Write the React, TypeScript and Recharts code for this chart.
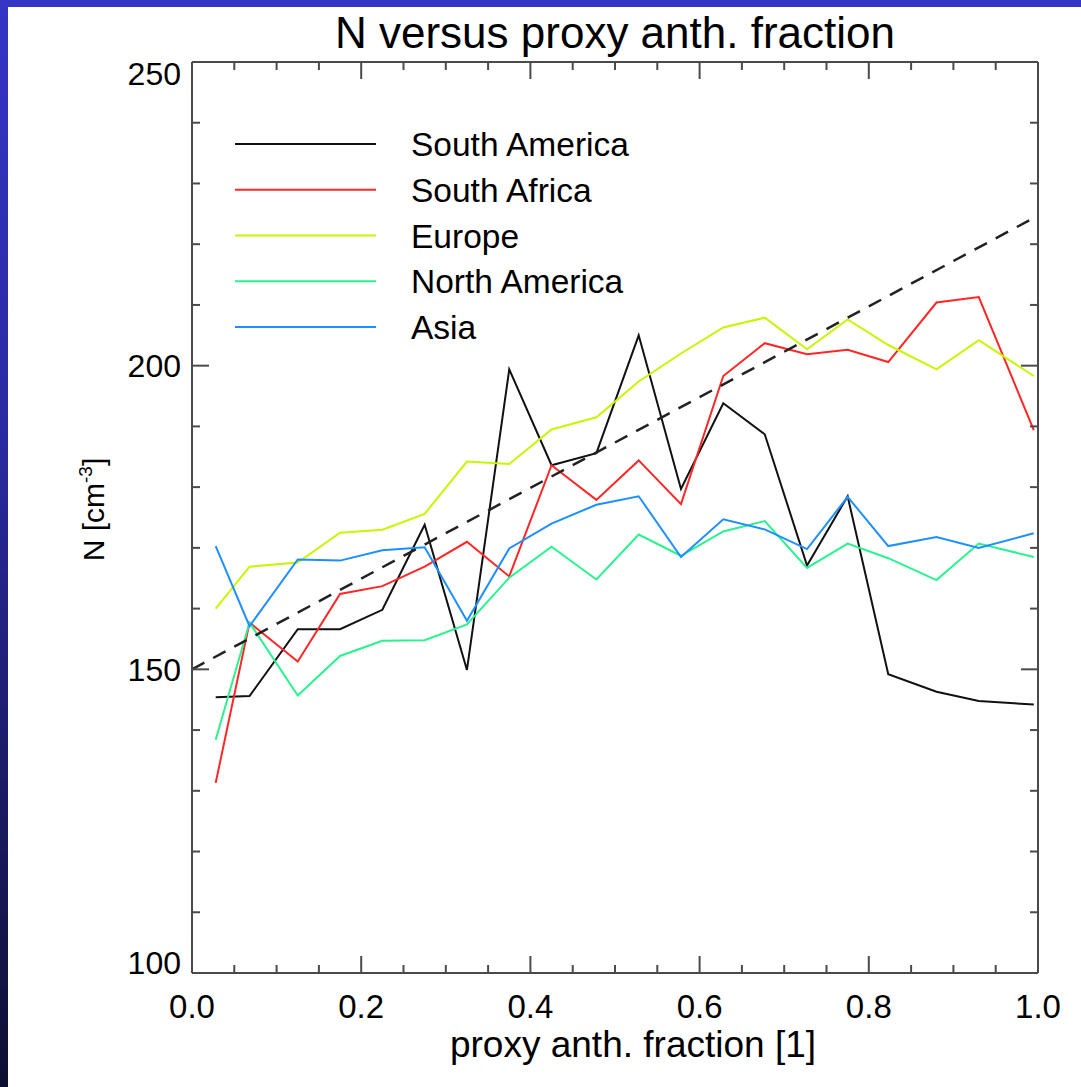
import React from 'react';
import { LineChart, Line, XAxis, YAxis, Legend } from 'recharts';

// ---- data ----
const xs = [0.028, 0.068, 0.125, 0.175, 0.225, 0.275, 0.325, 0.375, 0.425, 0.478, 0.528, 0.578, 0.628, 0.677, 0.727, 0.775, 0.823, 0.88, 0.93, 0.995];
const southAmerica = [145.4, 145.6, 156.6, 156.6, 159.8, 173.8, 149.9, 199.4, 183.6, 185.6, 205.0, 179.7, 193.8, 188.7, 167.1, 178.5, 149.2, 146.3, 144.8, 144.2];
const southAfrica = [131.3, 157.7, 151.3, 162.4, 163.7, 166.9, 171.0, 165.3, 183.6, 177.9, 184.4, 177.2, 198.3, 203.7, 201.9, 202.6, 200.6, 210.4, 211.3, 189.4];
const europe = [160.0, 166.9, 167.6, 172.5, 173.0, 175.6, 184.2, 183.8, 189.5, 191.5, 197.4, 202.0, 206.3, 207.9, 202.7, 207.6, 203.4, 199.4, 204.2, 198.3];
const northAmerica = [138.4, 157.7, 145.7, 152.2, 154.7, 154.8, 157.4, 165.1, 170.2, 164.8, 172.2, 168.7, 172.7, 174.4, 166.7, 170.7, 168.3, 164.7, 170.7, 168.5];
const asia = [170.3, 157.1, 168.1, 167.9, 169.6, 170.1, 158.0, 169.9, 174.0, 177.1, 178.5, 168.5, 174.7, 173.05, 169.8, 178.4, 170.3, 171.8, 170.0, 172.4];
const fitX = [0, 1];
const fitY = [150, 224.7];

const xTicks = [0, 0.05, 0.1, 0.15, 0.2, 0.25, 0.3, 0.35, 0.4, 0.45, 0.5, 0.55, 0.6, 0.65, 0.7, 0.75, 0.8, 0.85, 0.9, 0.95, 1.0];
const xMajor = [0, 0.2, 0.4, 0.6, 0.8, 1.0];
const xLabels = ['0.0', '0.2', '0.4', '0.6', '0.8', '1.0'];
const yTicks = [100, 110, 120, 130, 140, 150, 160, 170, 180, 190, 200, 210, 220, 230, 240, 250];
const yMajor = [100, 150, 200, 250];

const seriesNames = ['South America', 'South Africa', 'Europe', 'North America', 'Asia'];
const seriesColors = ['#111111', '#ff2626', '#c8f500', '#2af28e', '#1e8fff'];
const seriesValues = [southAmerica, southAfrica, europe, northAmerica, asia];

const title = 'N versus proxy anth. fraction';
const xTitle = 'proxy anth. fraction [1]';

const FONT = '"Liberation Sans", Arial, Helvetica, sans-serif';
const AXIS = '#4a4a4a';
const MAJ = 17;
const MIN = 8;

const toRows = (vals: number[], xv: number[]) => vals.map((v, i) => ({ x: xv[i], y: v }));

const isMajorX = (v: number) => xMajor.some((m) => Math.abs(m - v) < 1e-6);
const xLabelOf = (v: number) => {
  const i = xMajor.findIndex((m) => Math.abs(m - v) < 1e-6);
  return i >= 0 ? xLabels[i] : '';
};

const BottomTick = (p: any) => {
  const { x, y, payload } = p;
  const major = isMajorX(payload.value);
  return (
    <g>
      <line x1={x} x2={x} y1={y} y2={y - (major ? MAJ : MIN)} stroke={AXIS} strokeWidth={2} />
      {major && (
        <text x={x} y={y + 45} textAnchor="middle" fontSize={33} fontFamily={FONT} fill="#000">
          {xLabelOf(payload.value)}
        </text>
      )}
    </g>
  );
};

const TopTick = (p: any) => {
  const { x, y, payload } = p;
  const major = isMajorX(payload.value);
  return <line x1={x} x2={x} y1={y} y2={y + (major ? MAJ : MIN)} stroke={AXIS} strokeWidth={2} />;
};

const LeftTick = (p: any) => {
  const { x, y, payload } = p;
  const v = payload.value;
  const major = yMajor.includes(v);
  let shift = 0;
  if (v === 250) shift = 11;
  if (v === 100) shift = -11;
  return (
    <g>
      <line x1={x} x2={x + (major ? MAJ : MIN)} y1={y} y2={y} stroke={AXIS} strokeWidth={2} />
      {major && (
        <text x={x - 11} y={y + shift} dy="0.36em" textAnchor="end" fontSize={32} fontFamily={FONT} fill="#000">
          {v}
        </text>
      )}
    </g>
  );
};

const RightTick = (p: any) => {
  const { x, y, payload } = p;
  const major = yMajor.includes(payload.value);
  return <line x1={x} x2={x - (major ? MAJ : MIN)} y1={y} y2={y} stroke={AXIS} strokeWidth={2} />;
};

const TitleLabel = (p: any) => {
  const vb = p.viewBox || { x: 192, y: 61, width: 846, height: 1 };
  return (
    <text x={vb.x + vb.width / 2} y={vb.y - 13} textAnchor="middle" fontSize={44} fontFamily={FONT} fill="#000">
      {title}
    </text>
  );
};

const XTitleLabel = (p: any) => {
  const vb = p.viewBox || { x: 192, y: 973, width: 846, height: 40 };
  return (
    <text x={vb.x + vb.width / 2 + 18} y={vb.y + 84} textAnchor="middle" fontSize={37} fontFamily={FONT} fill="#000">
      {xTitle}
    </text>
  );
};

const YTitleLabel = (p: any) => {
  const vb = p.viewBox || { x: 132, y: 62, width: 60, height: 911 };
  const cx = vb.x - 28;
  const cy = vb.y + vb.height / 2 - 8;
  return (
    <text x={cx} y={cy} transform={`rotate(-90, ${cx}, ${cy})`} textAnchor="middle" fontSize={30} fontFamily={FONT} fill="#000">
      N [cm
      <tspan dy={-12} fontSize={19}>-3</tspan>
      <tspan dy={12}>]</tspan>
    </text>
  );
};

const LegendContent = (props: any) => {
  const items = (props.payload || [])
    .filter((e: any) => e.type !== 'none' && seriesNames.includes(e.value))
    .slice()
    .sort((a: any, b: any) => seriesNames.indexOf(a.value) - seriesNames.indexOf(b.value));
  return (
    <svg width={520} height={240} style={{ display: 'block' }}>
      {items.map((e: any, i: number) => {
        const cy = 20 + i * 45.75;
        return (
          <g key={e.value}>
            <line x1={0} x2={141} y1={cy} y2={cy} stroke={e.color} strokeWidth={2} />
            <text x={176} y={cy} dy="0.36em" fontSize={33.5} fontFamily={FONT} fill="#000">
              {e.value}
            </text>
          </g>
        );
      })}
    </svg>
  );
};

export default function App() {
  return (
    <div style={{ position: 'absolute', left: 0, top: 0, width: 1081, height: 1087, background: '#fff', overflow: 'hidden' }}>
      <div style={{ position: 'absolute', left: 0, top: 0, width: 1081, height: 7, background: '#3535c6' }} />
      <div
        style={{
          position: 'absolute',
          left: 0,
          top: 0,
          width: 8,
          height: 1087,
          background: 'linear-gradient(to bottom, #3535c6 0%, #2a2aa0 40%, #0e0e32 100%)',
        }}
      />
      <div style={{ position: 'absolute', left: 0, top: 0 }}>
        <LineChart width={1081} height={1087} margin={{ top: 61, right: 42, bottom: 74, left: 132 }}>
          <XAxis
            xAxisId={0}
            dataKey="x"
            type="number"
            domain={[0, 1]}
            ticks={xTicks}
            interval={0}
            allowDataOverflow
            height={40}
            tickSize={0}
            tickMargin={0}
            tickLine={false}
            axisLine={{ stroke: AXIS, strokeWidth: 2 }}
            tick={<BottomTick />}
            label={{ content: <XTitleLabel /> } as any}
          />
          <XAxis
            xAxisId="top"
            orientation="top"
            dataKey="x"
            type="number"
            domain={[0, 1]}
            ticks={xTicks}
            interval={0}
            allowDataOverflow
            height={1}
            tickSize={0}
            tickMargin={0}
            tickLine={false}
            axisLine={{ stroke: AXIS, strokeWidth: 2 }}
            tick={<TopTick />}
            label={{ content: <TitleLabel /> } as any}
          />
          <YAxis
            yAxisId={0}
            type="number"
            domain={[100, 250]}
            ticks={yTicks}
            interval={0}
            allowDataOverflow
            width={60}
            tickSize={0}
            tickMargin={0}
            tickLine={false}
            axisLine={{ stroke: AXIS, strokeWidth: 2 }}
            tick={<LeftTick />}
            label={{ content: <YTitleLabel /> } as any}
          />
          <YAxis
            yAxisId="right"
            orientation="right"
            type="number"
            domain={[100, 250]}
            ticks={yTicks}
            interval={0}
            allowDataOverflow
            width={1}
            tickSize={0}
            tickMargin={0}
            tickLine={false}
            axisLine={{ stroke: AXIS, strokeWidth: 2 }}
            tick={<RightTick />}
          />
          {seriesValues.map((vals, i) => (
            <Line
              key={seriesNames[i]}
              xAxisId={0}
              yAxisId={0}
              data={toRows(vals, xs)}
              dataKey="y"
              name={seriesNames[i]}
              type="linear"
              stroke={seriesColors[i]}
              strokeWidth={2}
              dot={false}
              activeDot={false}
              isAnimationActive={false}
            />
          ))}
          <Line
            xAxisId={0}
            yAxisId={0}
            data={toRows(fitY, fitX)}
            dataKey="y"
            name="fit"
            type="linear"
            stroke="#222"
            strokeWidth={2.5}
            strokeDasharray="14 10"
            dot={false}
            activeDot={false}
            legendType="none"
            isAnimationActive={false}
          />
          <Legend
            layout="vertical"
            align="center"
            verticalAlign="middle"
            itemSorter={null as any}
            content={<LegendContent />}
            wrapperStyle={{ position: 'absolute', left: 235, top: 124, width: 520, height: 240 }}
          />
        </LineChart>
      </div>
    </div>
  );
}
